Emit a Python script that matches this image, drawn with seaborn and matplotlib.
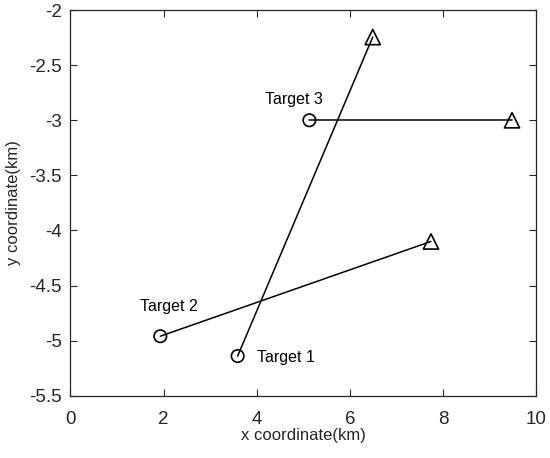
import pandas as pd
import matplotlib.pyplot as plt
import seaborn as sns

# start (circle) and end (triangle) of each target track
targets = ['Target 1', 'Target 2', 'Target 3']
x_start = [3.59, 1.93, 5.13]
y_start = [-5.14, -4.96, -3.0]
x_end = [6.49, 7.74, 9.48]
y_end = [-2.245, -4.10, -3.0]

# label positions
label_x = [4.01, 1.50, 4.18]
label_y = [-5.155, -4.69, -2.815]

rows = []
for i, t in enumerate(targets):
    rows.append({'target': t, 'x': x_start[i], 'y': y_start[i], 'kind': 'start'})
    rows.append({'target': t, 'x': x_end[i], 'y': y_end[i], 'kind': 'end'})
df = pd.DataFrame(rows)

sns.set_style("ticks")
plt.rcParams['font.family'] = ['Liberation Sans', 'DejaVu Sans']

fig = plt.figure(figsize=(5.5, 4.58), dpi=100)
ax = fig.add_axes([0.128, 0.136, 0.847, 0.842])

dark = '#262626'

sns.lineplot(data=df, x='x', y='y', units='target', estimator=None, sort=False,
             color='black', linewidth=1.1, ax=ax)
sns.scatterplot(data=df, x='x', y='y', style='kind', size='kind',
                markers={'start': 'o', 'end': '^'}, sizes={'start': 80, 'end': 120},
                facecolors='none', edgecolor='black', linewidth=1.2,
                legend=False, ax=ax, zorder=3)

for i, t in enumerate(targets):
    ax.text(label_x[i], label_y[i], t, fontsize=11.5, color='black', va='center', ha='left')

ax.set_xlim(0, 10)
ax.set_ylim(-5.5, -2)
ax.set_xticks([0, 2, 4, 6, 8, 10])
ax.set_yticks([-5.5, -5, -4.5, -4, -3.5, -3, -2.5, -2])
ax.set_yticklabels(['-5.5', '-5', '-4.5', '-4', '-3.5', '-3', '-2.5', '-2'])

ax.tick_params(direction='in', length=5, width=0.8, top=True, right=True,
               labelsize=13.5, colors=dark)
ax.tick_params(axis='x', pad=11)
ax.tick_params(axis='y', pad=6)
for s in ax.spines.values():
    s.set_visible(True)
    s.set_linewidth(0.9)
    s.set_color(dark)

ax.set_xlabel('x coordinate(km)', fontsize=12, color=dark, labelpad=0)
ax.set_ylabel('y coordinate(km)', fontsize=12, color=dark, labelpad=6)

plt.savefig('out.png', dpi=100)
